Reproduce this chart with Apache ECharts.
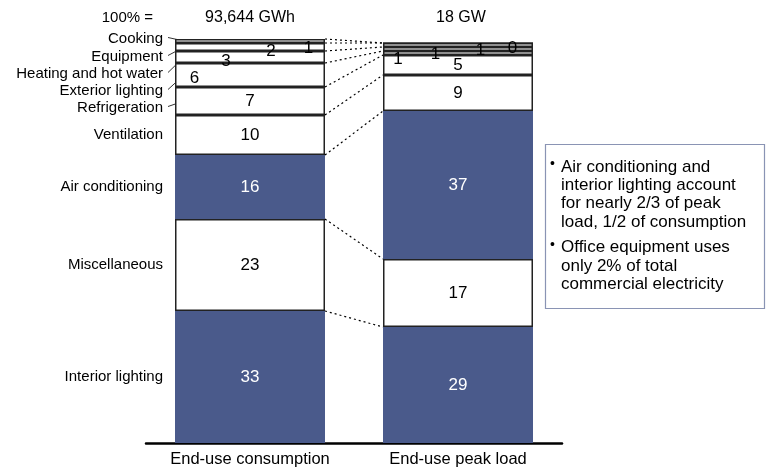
<!DOCTYPE html>
<html>
<head>
<meta charset="utf-8">
<script src="https://cdn.jsdelivr.net/npm/echarts@6/dist/echarts.min.js"></script>
<style>
html,body{margin:0;padding:0;background:#fff;}
#c{width:769px;height:470px;}
</style>
</head>
<body>
<div id="c"></div>
<script>
// ---------- data ----------
const categories = ['Interior lighting','Miscellaneous','Air conditioning','Ventilation','Refrigeration','Exterior lighting','Heating and hot water','Equipment','Cooking'];
const consumption = [33, 23, 16, 10, 7, 6, 3, 2, 1];
const peakLoad    = [29, 17, 37, 9, 5, 1, 1, 1, 0];
const barLabels = ['End-use consumption', 'End-use peak load'];
const totals = ['93,644 GWh', '18 GW'];
const totalPrefix = '100% =';
const highlighted = ['Interior lighting', 'Air conditioning'];
const notes = [
  ['Air conditioning and', 'interior lighting account', 'for nearly 2/3 of peak', 'load, 1/2 of consumption'],
  ['Office equipment uses', 'only 2% of total', 'commercial electricity']
];

// ---------- styles ----------
const FONT = '"Liberation Sans", Arial, sans-serif';
const BLUE = '#4a5a8b';
const BAR_W = 150;
// label placement inside small segments: [x% of bar, y offset px] for [left bar, right bar]
const labelPlace = {
  'Cooking': [['89%', 7], ['86%', 5]],
  'Equipment': [['64%', 4], ['65%', 5]],
  'Heating and hot water': [['34%', 4], ['35%', 5]],
  'Exterior lighting': [['13%', 3], ['10%', 6]]
};
// stacked name labels for thin segments (pixel text layout)
const stackedNameY = {'Cooking': 39, 'Equipment': 57, 'Heating and hot water': 74, 'Exterior lighting': 91, 'Refrigeration': 108};

const chart = echarts.init(document.getElementById('c'), null, {renderer: 'canvas'});

const series = categories.map((name, i) => {
  const blue = highlighted.includes(name);
  return {
    type: 'bar', name, stack: 'total', barWidth: BAR_W, silent: true,
    itemStyle: {color: blue ? BLUE : '#ffffff', borderColor: blue ? BLUE : '#222', borderWidth: blue ? 0 : 1.5},
    label: {show: true, color: blue ? '#ffffff' : '#000', fontSize: 17, fontFamily: FONT, formatter: '{c}'},
    data: [consumption[i], peakLoad[i]].map((v, j) => {
      const p = labelPlace[name] && labelPlace[name][j];
      const d = {value: v};
      if (p) d.label = {position: [p[0], '50%'], offset: [0, p[1]], align: 'center', verticalAlign: 'middle'};
      return d;
    })
  };
});

chart.setOption({
  animation: false,
  grid: {left: 146, right: 207, top: 39, bottom: 27},
  xAxis: {
    type: 'category', data: barLabels,
    axisLine: {lineStyle: {color: '#000', width: 2.5}},
    axisTick: {show: false},
    axisLabel: {interval: 0, color: '#000', fontSize: 16.5, fontFamily: FONT, margin: 8}
  },
  yAxis: {type: 'value', min: 0, max: 101, show: false},
  series
});

// ---------- annotations computed from data via the axes ----------
const px = (cat, v) => chart.convertToPixel({gridIndex: 0}, [cat, v]);
const graphics = [];
const cum = arr => arr.reduce((a, v, i) => (a.push((a[i - 1] || 0) + v), a), []);
const cumL = cum(consumption), cumR = cum(peakLoad);

// dotted connectors between segment boundaries
for (let k = 0; k < categories.length; k++) {
  const a = px(0, cumL[k]), b = px(1, cumR[k]);
  graphics.push({type: 'line', silent: true, z: 10,
    shape: {x1: a[0] + BAR_W / 2, y1: a[1], x2: b[0] - BAR_W / 2, y2: b[1]},
    style: {stroke: '#000', lineWidth: 1.2, lineDash: [2, 3]}});
}

// category names on the left
const labelRight = 163;
categories.forEach((name, i) => {
  const center = px(0, (cumL[i] - consumption[i] / 2));
  const barLeft = center[0] - BAR_W / 2;
  let y = center[1];
  if (stackedNameY[name] !== undefined) {
    y = stackedNameY[name];
    graphics.push({type: 'line', silent: true,
      shape: {x1: labelRight + 5, y1: y - 1.5, x2: barLeft + 9, y2: center[1]},
      style: {stroke: '#333', lineWidth: 1}});
  }
  graphics.push({type: 'text', silent: true, x: labelRight, y,
    style: {text: name, font: '15px ' + FONT, fill: '#000', align: 'right', verticalAlign: 'middle'}});
});

// header totals
graphics.push({type: 'text', silent: true, x: 153, y: 18,
  style: {text: totalPrefix, font: '15px ' + FONT, fill: '#000', align: 'right', verticalAlign: 'middle'}});
totals.forEach((t, j) => {
  const c = px(j, 0);
  graphics.push({type: 'text', silent: true, x: c[0] + (j ? 3 : 0), y: 18,
    style: {text: t, font: '16px ' + FONT, fill: '#000', align: 'center', verticalAlign: 'middle'}});
});

// callout box
graphics.push({type: 'rect', silent: true, shape: {x: 545.5, y: 144.5, width: 219, height: 164},
  style: {fill: '#fff', stroke: '#8a94b4', lineWidth: 1.2}});
let ty = 167;
notes.forEach((lines) => {
  graphics.push({type: 'text', silent: true, x: 550, y: ty - 3,
    style: {text: '•', font: '14px ' + FONT, fill: '#000', align: 'left', verticalAlign: 'middle'}});
  lines.forEach((ln) => {
    graphics.push({type: 'text', silent: true, x: 561, y: ty,
      style: {text: ln, font: '17px ' + FONT, fill: '#000', align: 'left', verticalAlign: 'middle'}});
    ty += 18.3;
  });
  ty += 7.5;
});

chart.setOption({graphic: graphics});
</script>
</body>
</html>
